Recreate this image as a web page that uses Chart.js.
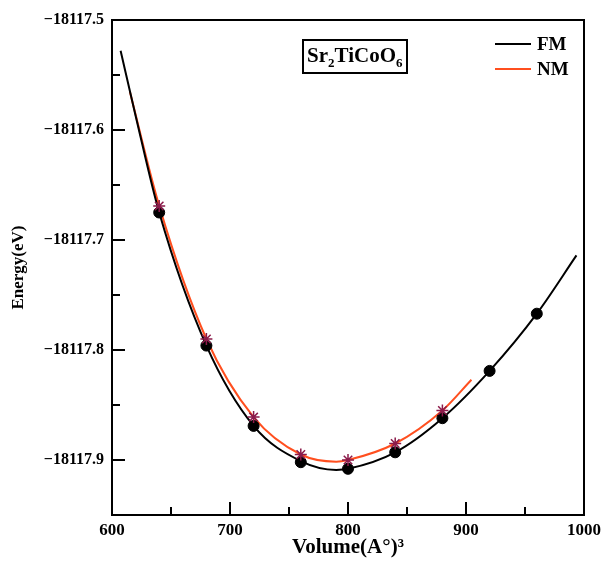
<!DOCTYPE html>
<html>
<head>
<meta charset="utf-8">
<script src="https://cdn.jsdelivr.net/npm/chart.js@4"></script>
<style>
  html, body { margin: 0; padding: 0; background: #fff; }
  #wrap { width: 606px; height: 563px; }
</style>
</head>
<body>
<div id="wrap"><canvas id="c" width="606" height="563"></canvas></div>
<script>
// Computed total energies (eV) against cell volume for Sr2TiCoO6
const volumesFM = [640, 680, 720, 760, 800, 840, 880, 920, 960];
const energyFM  = [-18117.675, -18117.796, -18117.869, -18117.902, -18117.908,
                   -18117.893, -18117.862, -18117.819, -18117.767];

const volumesNM = [640, 680, 720, 760, 800, 840, 880];
const energyNM  = [-18117.669, -18117.790, -18117.861, -18117.895, -18117.900,
                   -18117.885, -18117.855];

// Equation-of-state fit curves
const fitVolumeFM = [607.3, 620, 640, 680, 720, 760, 790, 800, 840, 880, 920, 960, 993.6];
const fitEnergyFM = [-18117.528, -18117.587, -18117.675, -18117.796, -18117.869, -18117.901,
                     -18117.909, -18117.908, -18117.893, -18117.862, -18117.819, -18117.767, -18117.714];

const fitVolumeNM = [615.1, 640, 680, 720, 760, 790, 800, 840, 880, 904.6];
const fitEnergyNM = [-18117.565, -18117.669, -18117.790, -18117.861, -18117.895,
                     -18117.9015, -18117.900, -18117.885, -18117.855, -18117.827];

// Axis ticks
const xTickValues  = [600, 700, 800, 900, 1000];
const xMinorValues = [650, 750, 850, 950];
const yTickValues  = [-18117.9, -18117.8, -18117.7, -18117.6, -18117.5];
const yMinorValues = [-18117.85, -18117.75, -18117.65, -18117.55];

const seriesNames = ['FM', 'NM'];
const compoundLabel = [['Sr', false], ['2', true], ['TiCoO', false], ['6', true]];

const SERIF = '"Liberation Serif", "DejaVu Serif", serif';
const COLOR_FM = '#000000';
const COLOR_NM = '#ff4f1f';
const COLOR_STAR = '#8b1a4a';

const toXY = (xs, ys) => xs.map((x, i) => ({ x, y: ys[i] }));

const framePlugin = {
  id: 'frame',
  afterDatasetsDraw(chart) {
    const { ctx, chartArea: a, scales: { x, y } } = chart;
    ctx.save();
    ctx.strokeStyle = '#000';
    ctx.lineWidth = 2;
    ctx.strokeRect(a.left, a.top, a.right - a.left, a.bottom - a.top);

    // inward tick marks
    ctx.beginPath();
    xTickValues.forEach(v => { const px = Math.round(x.getPixelForValue(v)); ctx.moveTo(px, a.bottom); ctx.lineTo(px, a.bottom - 13); });
    xMinorValues.forEach(v => { const px = Math.round(x.getPixelForValue(v)); ctx.moveTo(px, a.bottom); ctx.lineTo(px, a.bottom - 8); });
    yTickValues.forEach(v => { const py = Math.round(y.getPixelForValue(v)); ctx.moveTo(a.left, py); ctx.lineTo(a.left + 13, py); });
    yMinorValues.forEach(v => { const py = Math.round(y.getPixelForValue(v)); ctx.moveTo(a.left, py); ctx.lineTo(a.left + 8, py); });
    ctx.stroke();

    // compound label in a box
    const bx = a.left + 191, by = a.top + 20, bw = 104, bh = 33;
    ctx.lineWidth = 2;
    ctx.strokeRect(bx, by, bw, bh);
    ctx.fillStyle = '#000';
    ctx.textBaseline = 'alphabetic';
    ctx.textAlign = 'left';
    let tx = bx + 4;
    const base = by + 22;
    compoundLabel.forEach(([t, sub]) => {
      ctx.font = sub ? `bold 13px ${SERIF}` : `bold 21px ${SERIF}`;
      ctx.fillText(t, tx, sub ? base + 5 : base);
      tx += ctx.measureText(t).width;
    });

    // legend
    const ds = chart.data.datasets;
    ctx.font = `bold 19px ${SERIF}`;
    ctx.textBaseline = 'middle';
    seriesNames.forEach((name, i) => {
      const ly = a.top + 24 + i * 25;
      ctx.strokeStyle = ds[i].borderColor;
      ctx.lineWidth = 2;
      ctx.beginPath();
      ctx.moveTo(a.left + 383, ly);
      ctx.lineTo(a.left + 419, ly);
      ctx.stroke();
      ctx.fillStyle = '#000';
      ctx.fillText(name, a.left + 425, ly + 1);
    });
    ctx.restore();
  }
};

const fmtY = v => (v < 0 ? '\u2212' : '') + Math.abs(v).toFixed(1);

new Chart(document.getElementById('c'), {
  type: 'scatter',
  data: {
    datasets: [
      { label: 'FM', data: toXY(fitVolumeFM, fitEnergyFM), showLine: true, borderColor: COLOR_FM,
        borderWidth: 2, pointRadius: 0, cubicInterpolationMode: 'monotone', order: 2 },
      { label: 'NM', data: toXY(fitVolumeNM, fitEnergyNM), showLine: true, borderColor: COLOR_NM,
        borderWidth: 2, pointRadius: 0, cubicInterpolationMode: 'monotone', order: 3 },
      { label: 'FM data', data: toXY(volumesFM, energyFM), showLine: false, pointStyle: 'circle',
        pointRadius: 5.5, backgroundColor: '#000', borderColor: '#000', borderWidth: 1, order: 1 },
      { label: 'NM data', data: toXY(volumesNM, energyNM), showLine: false, pointStyle: 'star',
        pointRadius: 6, backgroundColor: COLOR_STAR, borderColor: COLOR_STAR, borderWidth: 1.5, order: 0 }
    ]
  },
  options: {
    responsive: false,
    animation: false,
    devicePixelRatio: 1,
    layout: { padding: { top: 20, right: 16, left: 0, bottom: 0 } },
    plugins: { legend: { display: false }, tooltip: { enabled: false } },
    scales: {
      x: {
        type: 'linear', min: 600, max: 1000,
        afterBuildTicks: s => { s.ticks = xTickValues.map(v => ({ value: v })); },
        afterFit: s => { s.height = 48; },
        grid: { display: false, drawTicks: false },
        border: { display: false },
        ticks: { padding: 5, color: '#000', font: { family: SERIF, size: 17, weight: 'bold' },
                 callback: v => String(v) },
        title: { display: true, text: 'Volume(A\u00b0)\u00b3', color: '#000',
                 font: { family: SERIF, size: 21, weight: 'bold' }, padding: { top: 0, bottom: 3 } }
      },
      y: {
        type: 'linear', min: -18117.95, max: -18117.5,
        afterBuildTicks: s => { s.ticks = yTickValues.map(v => ({ value: v })); },
        afterFit: s => { s.width = 112; },
        grid: { display: false, drawTicks: false },
        border: { display: false },
        ticks: { padding: 8, color: '#000', font: { family: SERIF, size: 16, weight: 'bold' },
                 callback: v => fmtY(v) },
        title: { display: true, text: 'Energy(eV)', color: '#000',
                 font: { family: SERIF, size: 17, weight: 'bold' }, padding: { top: 8, bottom: 0 } }
      }
    }
  },
  plugins: [framePlugin]
});
</script>
</body>
</html>
